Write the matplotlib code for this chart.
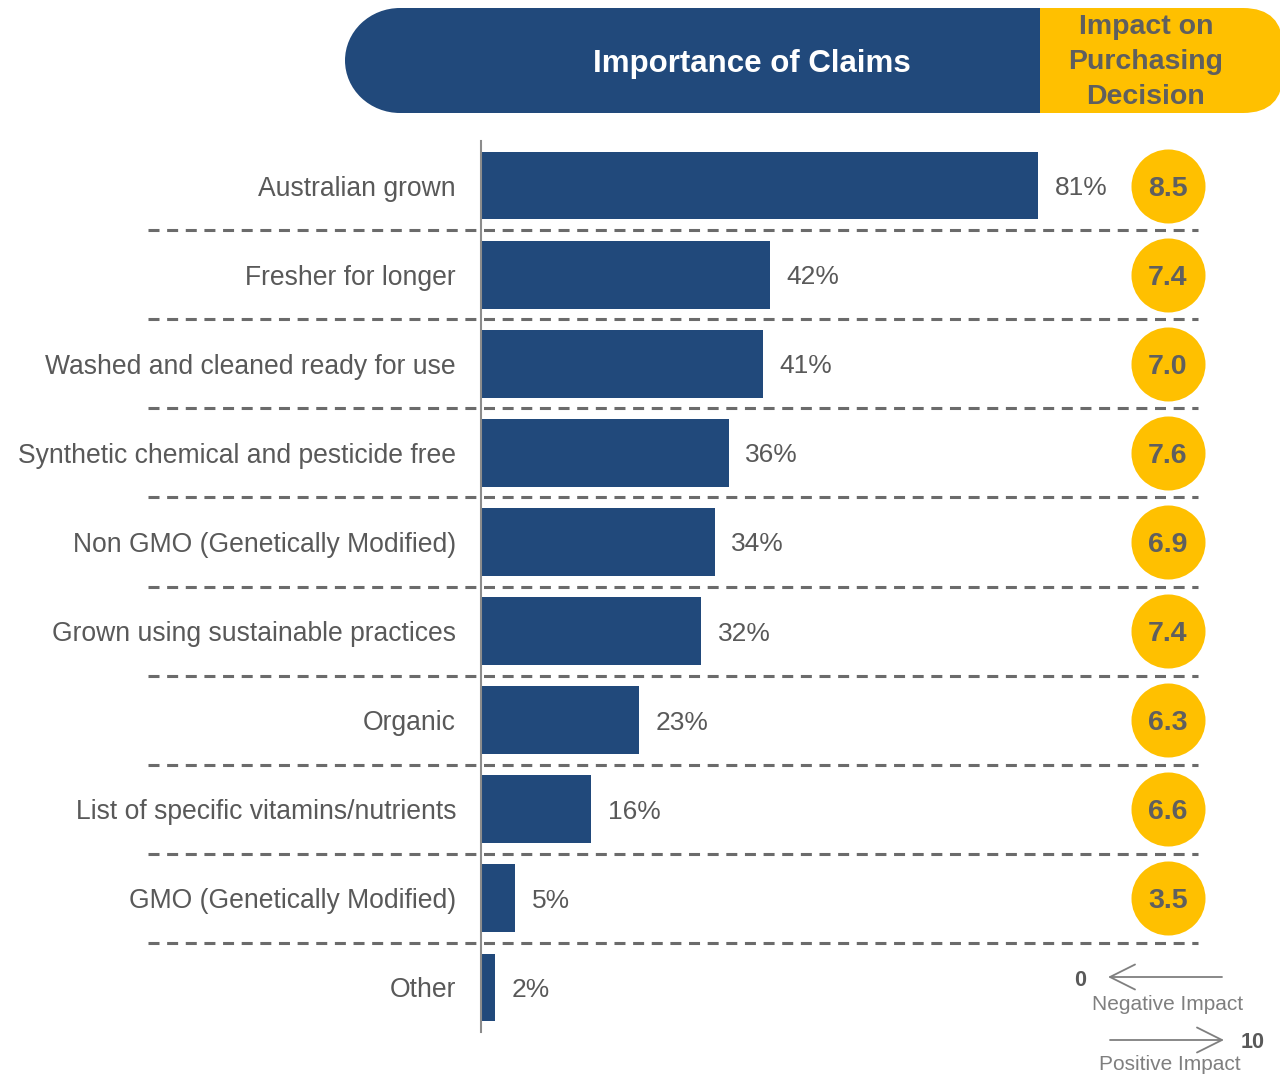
import matplotlib.pyplot as plt
from matplotlib.patches import FancyBboxPatch, Rectangle, Ellipse

plt.rcParams['font.family'] = ['Liberation Sans', 'DejaVu Sans']

# claims and share of respondents rating them important
claims = ["Australian grown", "Fresher for longer", "Washed and cleaned ready for use",
          "Synthetic chemical and pesticide free", "Non GMO (Genetically Modified)",
          "Grown using sustainable practices", "Organic",
          "List of specific vitamins/nutrients", "GMO (Genetically Modified)", "Other"]
importance = [81, 42, 41, 36, 34, 32, 23, 16, 5, 2]
# impact on purchasing decision (0-10), none asked for "Other"
impact = [8.5, 7.4, 7.0, 7.6, 6.9, 7.4, 6.3, 6.6, 3.5]

BLUE = "#21497B"
GOLD = "#FFC000"
GREY = "#595959"

W, H = 1280, 1077
fig = plt.figure(figsize=(W / 100, H / 100), dpi=100)

# pixel-space layer for the header and the legend
deco = fig.add_axes([0, 0, 1, 1], zorder=0)
deco.set_xlim(0, W)
deco.set_ylim(H, 0)
deco.axis("off")

# header banner
deco.add_patch(FancyBboxPatch((1000, 8), 283, 105, boxstyle="round,pad=0,rounding_size=40",
                              fc=GOLD, ec="none"))
deco.add_patch(Ellipse((400, 60.5), 110, 105, fc=BLUE, ec="none"))
deco.add_patch(Rectangle((400, 8), 640, 105, fc=BLUE, ec="none"))
deco.text(752, 64, "Importance of Claims", color="white", fontsize=22.5, fontweight="bold",
          ha="center", va="center")
deco.text(1146, 62, "Impact on\nPurchasing\nDecision", color="#5f5f5f", fontsize=20.5,
          fontweight="bold", ha="center", va="center", linespacing=1.44)

# impact scale legend
LG = "#7f7f7f"
deco.annotate("", xy=(1108, 977), xytext=(1222, 977),
              arrowprops=dict(arrowstyle="->,head_length=0.9,head_width=0.45", color=LG,
                              lw=1.3, mutation_scale=20, shrinkA=0, shrinkB=0))
deco.annotate("", xy=(1224, 1040), xytext=(1110, 1040),
              arrowprops=dict(arrowstyle="->,head_length=0.9,head_width=0.45", color=LG,
                              lw=1.3, mutation_scale=20, shrinkA=0, shrinkB=0))
deco.text(1080, 981, "0", color=GREY, fontsize=15.5, fontweight="bold", ha="center", va="center")
deco.text(1253, 1043, "10", color=GREY, fontsize=15.5, fontweight="bold", ha="center", va="center")
deco.text(1168, 1004, "Negative Impact", color=LG, fontsize=15, ha="center", va="center")
deco.text(1170, 1065, "Positive Impact", color=LG, fontsize=15, ha="center", va="center")

# bar chart
px_per_pct = (1038 - 481) / 81
ax = fig.add_axes([481 / W, (H - 1032) / H, (W - 481) / W, 891 / H], zorder=1)
ax.patch.set_visible(False)
ax.set_xlim(0, (W - 481) / px_per_pct)
ax.set_ylim(len(claims) - 0.5, -0.5)

rows = list(range(len(claims)))
ax.barh(rows, importance, height=0.76, color=BLUE)
for r, v in zip(rows, importance):
    ax.annotate(f"{v}%", (v, r), xytext=(12, 0), textcoords="offset points",
                va="center_baseline", ha="left", fontsize=19, color=GREY)

# dashed separators between rows
for r in rows[:-1]:
    ax.plot([-48.4, 104.3], [r + 0.5, r + 0.5], color="#6b6b6b", lw=2.2,
            ls=(0, (3.6, 2.5)), clip_on=False, zorder=0)

# impact score bubbles
ix = 99.9
ax.scatter([ix] * len(impact), rows[:len(impact)], s=2840, color=GOLD, clip_on=False,
           zorder=3, linewidths=0)
for r, v in zip(rows, impact):
    ax.text(ix, r, f"{v:.1f}", ha="center", va="center_baseline", fontsize=20.5,
            fontweight="bold", color="#5f5f5f", zorder=4)

ax.set_yticks(rows)
ax.set_yticklabels(claims, fontsize=19.1, color=GREY)
ax.tick_params(axis="y", length=0, pad=18)
ax.set_xticks([])
for s in ["top", "right", "bottom"]:
    ax.spines[s].set_visible(False)
ax.spines["left"].set_color("#8c8c8c")
ax.spines["left"].set_linewidth(1.5)

fig.savefig("out.png", dpi=100)
